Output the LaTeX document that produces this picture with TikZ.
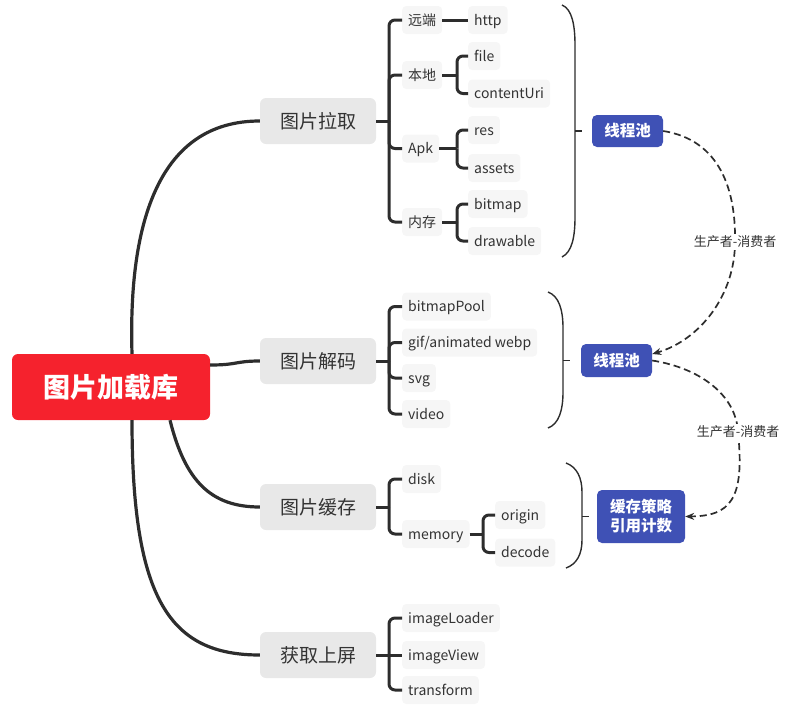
\documentclass[tikz,border=0pt]{standalone}
\usepackage{fontspec}
\setmainfont{Noto Sans CJK SC}
\usetikzlibrary{arrows.meta}
\definecolor{rootred}{RGB}{245,34,45}
\definecolor{poolblue}{RGB}{63,81,181}
\definecolor{lvgray}{RGB}{232,232,232}
\definecolor{itemgray}{RGB}{246,246,246}
\definecolor{linec}{RGB}{45,45,45}
\definecolor{txt}{RGB}{51,51,51}
\begin{document}
\begin{tikzpicture}[x=1pt,y=-1pt,
  rootbox/.style={fill=rootred,rounded corners=6pt,minimum width=198pt,minimum height=66pt,text=white,font=\fontsize{27}{30}\selectfont\bfseries,inner sep=0pt},
  lvbox/.style={fill=lvgray,rounded corners=6pt,minimum width=116pt,minimum height=46pt,text=txt,font=\fontsize{19}{22}\selectfont,inner sep=0pt},
  item/.style={fill=itemgray,rounded corners=4pt,minimum height=28pt,inner xsep=6pt,inner ysep=0pt,anchor=west,text=txt,font=\fontsize{14}{16}\selectfont,text height=12pt,text depth=2pt},
  pool/.style={fill=poolblue,rounded corners=5pt,text=white,font=\fontsize{15.5}{19}\selectfont\bfseries,inner sep=0pt,align=center},
  branch/.style={draw=linec,line width=3pt,rounded corners=6pt},
  trunk/.style={draw=linec,line width=3.2pt},
  bracefine/.style={draw=linec,line width=1.4pt},
  flow/.style={draw=linec,line width=1.7pt,dash pattern=on 7pt off 4pt,-{Stealth[length=9pt,width=7pt]}},
  flowlabel/.style={fill=white,text=txt,font=\fontsize{13}{15}\selectfont,inner sep=1.5pt}
]
\useasboundingbox (0,0) rectangle (793,710);

% root and level-1
\node[rootbox] (root) at (111,387) {图片加载库};
\node[lvbox] (fetch) at (318,121) {图片拉取};
\node[lvbox] (decode) at (318,361) {图片解码};
\node[lvbox] (cache) at (318,507) {图片缓存};
\node[lvbox] (show) at (318,655) {获取上屏};

\draw[trunk] (root.north -| 132,0) .. controls (128,220) and (160,121) .. (fetch.west);
\draw[trunk] (root.east |- 0,365) .. controls (238,365) and (235,361) .. (decode.west);
\draw[trunk] (root.south -| 170,0) .. controls (185,480) and (210,507) .. (cache.west);
\draw[trunk] (root.south -| 132,0) .. controls (132,600) and (170,655) .. (show.west);

% fetch items
\node[item] (remote) at (402,20) {远端};
\node[item] (http) at (468,20) {http};
\node[item] (local) at (402,75) {本地};
\node[item] (file) at (468,56) {file};
\node[item] (curi) at (468,93.5) {contentUri};
\node[item] (apk) at (402,148.5) {Apk};
\node[item] (res) at (468,130) {res};
\node[item] (assets) at (468,168) {assets};
\node[item] (mem) at (402,222) {内存};
\node[item] (bitmap) at (468,204) {bitmap};
\node[item] (drawable) at (468,241) {drawable};

\coordinate (jf) at (389,121);
\draw[branch] (fetch.east) -- (jf);
\foreach \c in {remote,local,apk,mem} \draw[branch] (jf) |- (\c.west);
\draw[branch] (remote.east) -- (http.west);
\coordinate (jl) at (457,75);
\draw[branch] (local.east) -- (jl);
\foreach \c in {file,curi} \draw[branch] (jl) |- (\c.west);
\coordinate (ja) at (457,148.5);
\draw[branch] (apk.east) -- (ja);
\foreach \c in {res,assets} \draw[branch] (ja) |- (\c.west);
\coordinate (jm) at (457,222);
\draw[branch] (mem.east) -- (jm);
\foreach \c in {bitmap,drawable} \draw[branch] (jm) |- (\c.west);

% decode items
\node[item] (bpool) at (402,306.5) {bitmapPool};
\node[item] (gif) at (402,342.5) {gif/animated webp};
\node[item] (svg) at (402,378) {svg};
\node[item] (video) at (402,414) {video};
\coordinate (jd) at (389,361);
\draw[branch] (decode.east) -- (jd);
\foreach \c in {bpool,gif,svg,video} \draw[branch] (jd) |- (\c.west);

% cache items
\node[item] (disk) at (402,479) {disk};
\node[item] (memory) at (402,534) {memory};
\node[item] (origin) at (495,515) {origin};
\node[item] (dec) at (495,552.5) {decode};
\coordinate (jc) at (389,507);
\draw[branch] (cache.east) -- (jc);
\foreach \c in {disk,memory} \draw[branch] (jc) |- (\c.west);
\coordinate (jmm) at (483,534);
\draw[branch] (memory.east) -- (jmm);
\foreach \c in {origin,dec} \draw[branch] (jmm) |- (\c.west);

% show items
\node[item] (loader) at (402,618) {imageLoader};
\node[item] (view) at (402,655) {imageView};
\node[item] (trans) at (402,690) {transform};
\coordinate (js) at (389,655);
\draw[branch] (show.east) -- (js);
\draw[branch] (js) -- (view.west);
\foreach \c in {loader,trans} \draw[branch] (js) |- (\c.west);

% pools
\node[pool,minimum width=71pt,minimum height=32pt] (pool1) at (627.5,131) {线程池};
\node[pool,minimum width=71pt,minimum height=33pt] (pool2) at (616.5,360.5) {线程池};
\node[pool,minimum width=88pt,minimum height=53pt] (policy) at (641,516.5) {缓存策略\\引用计数};

% braces
\draw[bracefine] (562,5) .. controls (572,9) and (575,25) .. (575,45) -- (575,217) .. controls (575,237) and (572,252) .. (562,257);
\draw[bracefine] (575,131) -- (582,131);
\draw[bracefine] (548,292) .. controls (559,296) and (563,310) .. (563,328) -- (563,392) .. controls (563,410) and (559,424) .. (548,428);
\draw[bracefine] (563,360.5) -- (570,360.5);
\draw[bracefine] (566,463) .. controls (577,467) and (582,478) .. (582,492) -- (582,540) .. controls (582,554) and (577,564) .. (566,568);
\draw[bracefine] (582,516.5) -- (589,516.5);

% producer-consumer flows
\coordinate (l1) at (735,242);
\coordinate (l2) at (738,432);
\draw[flow] (pool1.east) .. controls (720,140) and (736,190) .. (l1) .. controls (735,295) and (700,340) .. (pool2.east |- 0,354);
\draw[flow] (pool2.east) .. controls (700,368) and (736,395) .. (l2) .. controls (745,500) and (730,516) .. (policy.east);
\node[flowlabel] (lab1) at (l1) {生产者-消费者};
\node[flowlabel] (lab2) at (l2) {生产者-消费者};
\end{tikzpicture}
\end{document}
